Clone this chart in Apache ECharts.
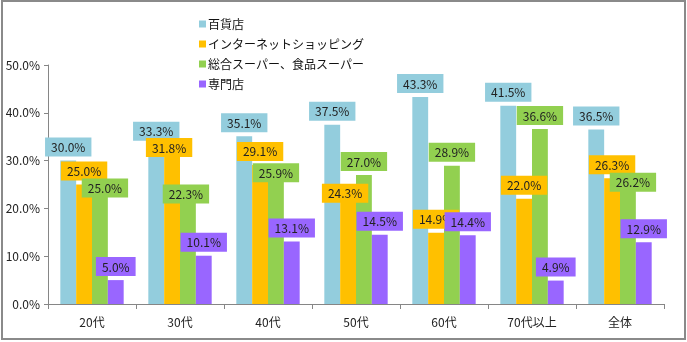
<!DOCTYPE html>
<html>
<head>
<meta charset="utf-8">
<script src="https://cdn.jsdelivr.net/npm/echarts@6/dist/echarts.min.js"></script>
<style>
  html, body { margin: 0; padding: 0; background: #fff; }
  #chart { width: 687px; height: 342px; }
</style>
</head>
<body>
<div id="chart"></div>
<script>
// Shopping channel usage by age group (%)
const categories = ['20代', '30代', '40代', '50代', '60代', '70代以上', '全体'];
const seriesNames = ['百貨店', 'インターネットショッピング', '総合スーパー、食品スーパー', '専門店'];
const departmentStore = [30.0, 33.3, 35.1, 37.5, 43.3, 41.5, 36.5];
const onlineShopping  = [25.0, 31.8, 29.1, 24.3, 14.9, 22.0, 26.3];
const supermarket     = [25.0, 22.3, 25.9, 27.0, 28.9, 36.6, 26.2];
const specialtyStore  = [5.0, 10.1, 13.1, 14.5, 14.4, 4.9, 12.9];
const yTicks = [0, 10, 20, 30, 40, 50];

// Labels nudged aside where neighbouring labels would collide: [series, category, dx, dy]
const labelNudges = [
  [2, 0, 5, 17],
  [1, 1, -3, 9],
  [2, 1, -2, 10],
  [2, 2, 0, 6],
  [1, 3, -3, 19],
  [2, 6, 5, 17]
];

const colors = ['#93CDDD', '#FFC000', '#92D050', '#9966FF'];
const font = '"Noto Sans CJK JP", "Noto Sans", sans-serif';

function barSeries(idx, values) {
  const color = colors[idx];
  const data = values.map((v, ci) => {
    const n = labelNudges.find(e => e[0] === idx && e[1] === ci);
    return n ? { value: v, label: { offset: [n[2], n[3]] } } : v;
  });
  return {
    name: seriesNames[idx],
    type: 'bar',
    data: data,
    barGap: '0%',
    barCategoryGap: '28%',
    itemStyle: { color: color },
    label: {
      show: true,
      position: 'top',
      distance: 4,
      formatter: p => p.value.toFixed(1) + '%',
      backgroundColor: color,
      padding: [4, 6, 3, 6],
      color: '#222',
      fontSize: 12,
      fontFamily: font
    }
  };
}

const chart = echarts.init(document.getElementById('chart'));
chart.setOption({
  animation: false,
  backgroundColor: '#fff',
  textStyle: { fontFamily: font },
  graphic: [{
    type: 'rect',
    shape: { x: 2, y: 1, width: 683, height: 338 },
    style: { fill: 'none', stroke: '#8a8a8a', lineWidth: 2 },
    silent: true
  }],
  legend: {
    orient: 'vertical',
    left: 194,
    top: 13,
    itemWidth: 7,
    itemHeight: 7,
    itemGap: 8,
    icon: 'rect',
    textStyle: { fontSize: 12, color: '#111', fontFamily: font, padding: [0, 0, 0, -3] },
    data: seriesNames
  },
  grid: { left: 48, right: 23, top: 65, bottom: 38, containLabel: false },
  xAxis: {
    type: 'category',
    data: categories,
    axisLine: { lineStyle: { color: '#868686' } },
    axisTick: { show: true, length: 5, alignWithLabel: false, lineStyle: { color: '#868686' } },
    axisLabel: { color: '#222', fontSize: 12, margin: 12, fontFamily: font }
  },
  yAxis: {
    type: 'value',
    min: yTicks[0],
    max: yTicks[yTicks.length - 1],
    interval: yTicks[1] - yTicks[0],
    splitLine: { show: false },
    axisLine: { show: true, lineStyle: { color: '#868686' } },
    axisTick: { show: true, length: 4, lineStyle: { color: '#868686' } },
    axisLabel: {
      color: '#222', fontSize: 12, margin: 8, fontFamily: font,
      formatter: v => v.toFixed(1) + '%'
    }
  },
  series: [
    barSeries(0, departmentStore),
    barSeries(1, onlineShopping),
    barSeries(2, supermarket),
    barSeries(3, specialtyStore)
  ]
});
</script>
</body>
</html>
